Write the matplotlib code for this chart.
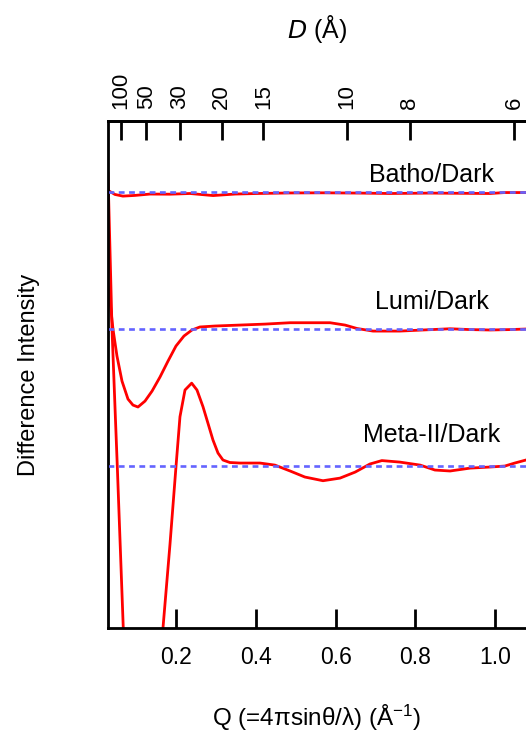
import numpy as np
import matplotlib
matplotlib.use("Agg")
import matplotlib.pyplot as plt

plt.rcParams['font.family'] = ['Liberation Sans', 'DejaVu Sans']
plt.rcParams['mathtext.default'] = 'regular'

# Q values (1/A) and difference intensities
q_batho = [0.0296, 0.047, 0.067, 0.097, 0.135, 0.185, 0.235, 0.293, 0.348, 0.403,
           0.486, 0.568, 0.661, 0.736, 0.836, 0.987, 1.024, 1.077]
i_batho = [0.012, -0.018, -0.030, -0.025, -0.015, -0.016, -0.011, -0.026, -0.015, -0.011,
           -0.007, -0.006, -0.008, -0.011, -0.008, -0.011, -0.004, -0.004]

q_lumi = [0.0296, 0.0346, 0.0421, 0.0521, 0.0647, 0.0797, 0.0922, 0.1048, 0.1223, 0.140,
          0.160, 0.180, 0.200, 0.220, 0.240, 0.260, 0.2977, 0.3604, 0.423, 0.4858,
          0.586, 0.6236, 0.6536, 0.6937, 0.761, 0.819, 0.887, 0.937, 0.987, 1.037, 1.077]
i_lumi = [0.328, 0.204, 0.0, -0.197, -0.380, -0.511, -0.555, -0.569, -0.526, -0.453,
          -0.350, -0.234, -0.124, -0.051, -0.007, 0.015, 0.022, 0.029, 0.036, 0.046,
          0.046, 0.029, 0.004, -0.015, -0.015, -0.007, 0.002, -0.004, -0.007, -0.004, 0.0]

q_meta = [0.0296, 0.0346, 0.0396, 0.0484, 0.0529, 0.0604, 0.0679, 0.075, 0.09, 0.115,
          0.14, 0.155, 0.1674, 0.185, 0.200, 0.210, 0.2226, 0.2393, 0.2526, 0.2677,
          0.280, 0.2927, 0.3053, 0.3178, 0.335, 0.3604, 0.4105, 0.448, 0.486, 0.523,
          0.5684, 0.611, 0.649, 0.686, 0.716, 0.761, 0.812, 0.849, 0.887, 0.937,
          0.987, 1.024, 1.049, 1.077]
i_meta = [2.139, 1.577, 1.007, 0.336, 0.0, -0.591, -1.182, -1.75, -2.5, -2.9,
          -2.3, -1.6, -1.182, -0.57, -0.005, 0.36, 0.555, 0.605, 0.555, 0.433,
          0.314, 0.190, 0.095, 0.044, 0.026, 0.022, 0.022, 0.007, -0.036, -0.080,
          -0.107, -0.088, -0.044, 0.015, 0.040, 0.029, 0.007, -0.029, -0.036, -0.015,
          -0.007, 0.0, 0.022, 0.044]

# vertical offsets of the traces
offsets = [2.0, 1.0, 0.0]
names = ['Batho/Dark', 'Lumi/Dark', 'Meta-II/Dark']

d_ticks = [100, 50, 30, 20, 15, 10, 8, 6]
q_ticks = [0.2, 0.4, 0.6, 0.8, 1.0]

fig = plt.figure(figsize=(5.26, 7.33), dpi=100)
ax = fig.add_axes([0.2053, 0.1432, 0.7947, 0.6917])

series = [(q_batho, i_batho), (q_lumi, i_lumi), (q_meta, i_meta)]
for (q, i), off in zip(series, offsets):
    ax.plot(q, np.array(i) + off, color='#ff0000', lw=2.0, zorder=2)
    ax.axhline(off, color='#6464ff', lw=1.9, ls=(0, (2.2, 1.7)), zorder=3)

label_pos = [2.073, 1.146, 0.177]
for name, yy in zip(names, label_pos):
    ax.text(0.8416, yy, name, fontsize=18, ha='center', va='baseline')

ax.set_xlim(0.0296, 1.0772)
ax.set_ylim(-1.182, 2.518)

ax.set_xticks(q_ticks)
ax.set_xticklabels(['%.1f' % v for v in q_ticks])
ax.set_yticks([])
ax.tick_params(axis='x', direction='in', length=14, width=2, labelsize=16.5, pad=13)
for s in ['left', 'bottom', 'top']:
    ax.spines[s].set_linewidth(2)
ax.spines['right'].set_visible(False)

ax.set_xlabel('Q (=4πsinθ/λ) (Å$^{-1}$)', fontsize=17.5, labelpad=24)
ax.set_ylabel('Difference Intensity', fontsize=17)
ax.yaxis.set_label_coords(-0.163, 0.5)

ax2 = ax.twiny()
ax2.set_xlim(ax.get_xlim())
ax2.set_xticks([2 * np.pi / d for d in d_ticks])
ax2.set_xticklabels([str(d) for d in d_ticks], rotation=90)
ax2.tick_params(axis='x', direction='in', length=14, width=2, labelsize=16, pad=9)
ax2.spines['right'].set_visible(False)
ax2.spines['top'].set_linewidth(2)
ax2.set_xlabel('$\\it{D}$ (Å)', fontsize=18, labelpad=24)

fig.savefig('out.png', dpi=100)
